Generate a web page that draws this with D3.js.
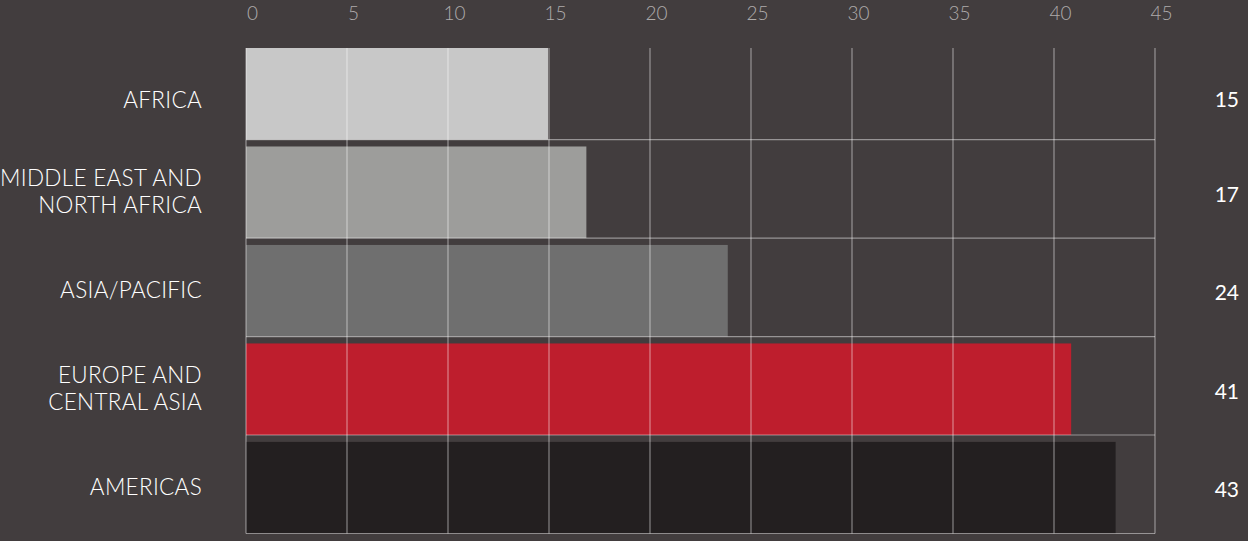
<!DOCTYPE html>
<html>
  <head>
    <meta charset="utf-8">
    <script src="https://d3js.org/d3.v7.min.js"></script>
    <style>
      body { margin: 0; background: #423d3e; }
      svg { display: block; }
    </style>
  </head>
  <body>
    <svg></svg>
    <script>
      // data
      const regions = ['AFRICA', 'MIDDLE EAST AND|NORTH AFRICA', 'ASIA/PACIFIC', 'EUROPE AND|CENTRAL ASIA', 'AMERICAS'];
      const values = [14.95, 16.85, 23.85, 40.85, 43.05];
      const valueLabels = ['15', '17', '24', '41', '43'];
      const barColors = ['#c8c8c8', '#9d9d9b', '#6f6f6f', '#be1e2d', '#231f20'];
      const tickValues = [0, 5, 10, 15, 20, 25, 30, 35, 40, 45];

      const width = 1248, height = 541;
      const svg = d3.select('svg')
        .attr('width', width)
        .attr('height', height);

      const margin = { top: 48, left: 246, right: 93 };
      const plotBottom = 533.5;

      const xScale = d3.scaleLinear()
        .domain([0, 45])
        .range([margin.left, width - margin.right]);

      const yScale = d3.scaleBand()
        .domain(regions)
        .range([margin.top, plotBottom])
        .paddingInner(0.07)
        .paddingOuter(0);

      // bars
      svg.append('g').selectAll('rect')
        .data(regions)
        .enter().append('rect')
          .attr('x', xScale(0))
          .attr('y', d => yScale(d))
          .attr('width', (d, i) => xScale(values[i]) - xScale(0))
          .attr('height', yScale.bandwidth())
          .attr('fill', (d, i) => barColors[i]);

      // grid, drawn over the bars
      const grid = svg.append('g')
        .attr('stroke', '#ffffff')
        .attr('stroke-opacity', 0.45)
        .attr('stroke-width', 1.2);

      grid.selectAll('line.v')
        .data(tickValues)
        .enter().append('line')
          .attr('class', 'v')
          .attr('x1', d => xScale(d))
          .attr('x2', d => xScale(d))
          .attr('y1', margin.top)
          .attr('y2', plotBottom);

      grid.selectAll('line.h')
        .data(regions)
        .enter().append('line')
          .attr('class', 'h')
          .attr('x1', xScale(0))
          .attr('x2', xScale(45))
          .attr('y1', d => yScale(d) + yScale.bandwidth())
          .attr('y2', d => yScale(d) + yScale.bandwidth());

      // top axis labels
      const xAxis = d3.axisTop(xScale)
        .tickValues(tickValues)
        .tickSize(0)
        .tickPadding(0);

      const xAxisG = svg.append('g')
        .attr('transform', 'translate(6,13)')
        .call(xAxis);
      xAxisG.select('.domain').remove();
      xAxisG.selectAll('text')
        .attr('fill', '#aeabab')
        .attr('dy', '0.36em')
        .style('font-family', 'Lato, sans-serif')
        .style('font-weight', 300)
        .style('font-size', '19px');

      // category labels
      const catG = svg.append('g');
      regions.forEach((r, i) => {
        const lines = r.split('|');
        const cy = yScale(r) + yScale.bandwidth() / 2 + (i === 0 ? 8 : 1);
        const t = catG.append('text')
          .attr('x', 202)
          .attr('y', cy - (lines.length - 1) * 13)
          .attr('text-anchor', 'end')
          .attr('dominant-baseline', 'middle')
          .attr('fill', '#ffffff')
          .style('font-family', 'Lato, sans-serif')
          .style('font-weight', 300)
          .style('font-size', '22.5px')
          .style('letter-spacing', '0.3px');
        lines.forEach((l, j) => {
          t.append('tspan')
            .attr('x', 202)
            .attr('dy', j === 0 ? 0 : 26.5)
            .text(l);
        });
      });

      // value labels on the right
      svg.append('g').selectAll('text')
        .data(regions)
        .enter().append('text')
          .attr('x', 1239)
          .attr('y', (d, i) => yScale(d) + yScale.bandwidth() / 2 + (i === 0 ? 8 : 4))
          .attr('text-anchor', 'end')
          .attr('dominant-baseline', 'middle')
          .attr('fill', '#ffffff')
          .style('font-family', 'Lato, sans-serif')
          .style('font-weight', 400)
          .style('font-size', '21px')
          .text((d, i) => valueLabels[i]);
    </script>
  </body>
</html>
